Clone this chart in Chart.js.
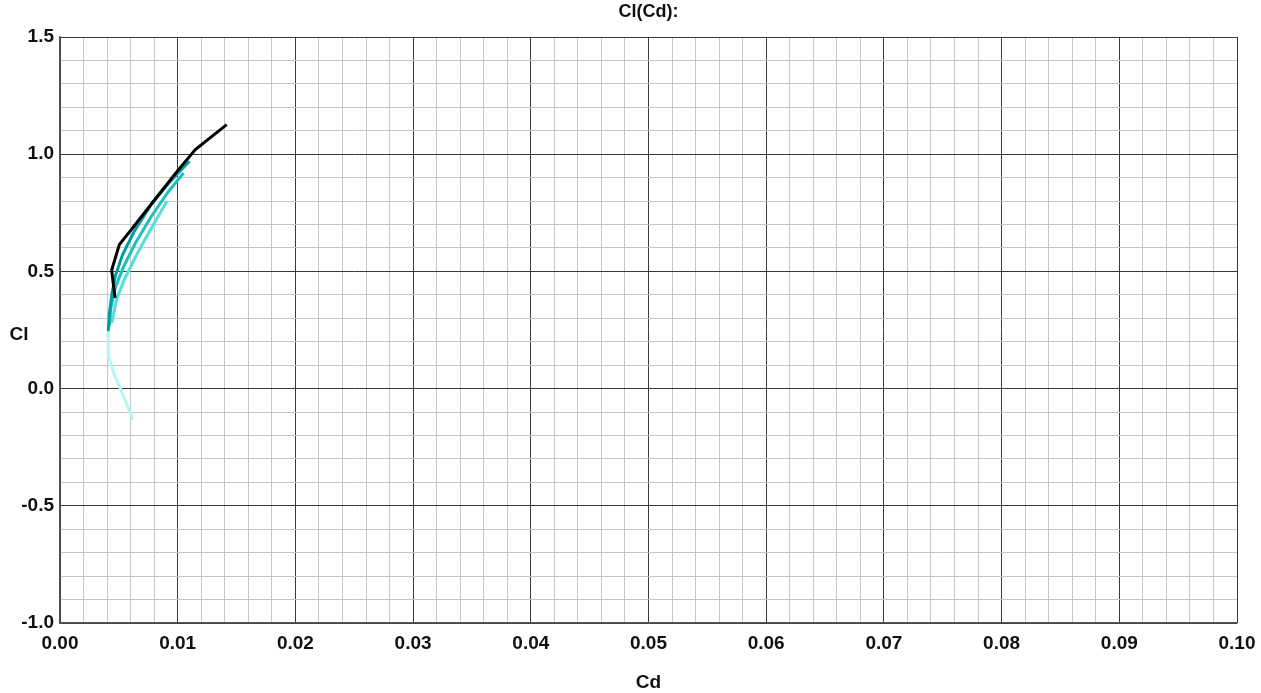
<!DOCTYPE html>
<html>
<head>
<meta charset="utf-8">
<script src="https://cdn.jsdelivr.net/npm/chart.js@4/dist/chart.umd.min.js"></script>
<style>
html,body{margin:0;padding:0;background:#fff;}
#wrap{width:1261px;height:693px;position:relative;}
</style>
</head>
<body>
<div id="wrap"><canvas id="c" width="1261" height="693"></canvas></div>
<script>
const chartTitle = "Cl(Cd):";
const xTitle = "Cd";
const yTitle = "Cl";

const seriesNames = ["s1", "s2", "s3", "s4", "s5"];
const seriesColors = ["#000000", "#009e9e", "#1cc0c0", "#5adcdc", "#b4f6f6"];

const cd1 = [0.00467, 0.00439, 0.00504, 0.0064, 0.0084, 0.0100, 0.01150, 0.01416];
const cl1 = [0.387, 0.505, 0.614, 0.70, 0.828, 0.93, 1.020, 1.126];

const cd2 = [0.0041, 0.0042, 0.0044, 0.0047, 0.0053, 0.0063, 0.0078, 0.0093, 0.0110];
const cl2 = [0.245, 0.32, 0.40, 0.48, 0.57, 0.67, 0.79, 0.88, 0.97];

const cd3 = [0.0042, 0.0043, 0.0047, 0.0054, 0.0064, 0.0077, 0.0092, 0.0105];
const cl3 = [0.27, 0.34, 0.43, 0.52, 0.62, 0.73, 0.84, 0.92];

const cd4 = [0.0044, 0.0048, 0.0055, 0.0064, 0.0076, 0.0091];
const cl4 = [0.28, 0.38, 0.47, 0.56, 0.67, 0.80];

const cd5 = [0.0062, 0.0051, 0.00467, 0.0041, 0.0041, 0.0045, 0.0052, 0.0061, 0.0071, 0.0081];
const cl5 = [-0.132, 0.004, 0.052, 0.138, 0.25, 0.33, 0.43, 0.53, 0.63, 0.70];

const xs = [cd1, cd2, cd3, cd4, cd5];
const ys = [cl1, cl2, cl3, cl4, cl5];

const xMin = 0, xMax = 0.10, xMinor = 0.002;
const yMin = -1.0, yMax = 1.5, yMinor = 0.1;

const datasets = seriesNames.map((n, i) => ({
  label: n,
  data: xs[i].map((x, k) => ({x: x, y: ys[i][k]})),
  borderColor: seriesColors[i],
  backgroundColor: seriesColors[i],
  borderWidth: 3,
  pointRadius: 0,
  showLine: true,
  tension: 0,
  fill: false
}));

const FONT = "'Liberation Sans', Arial, sans-serif";

const textPlugin = {
  id: 'texts',
  afterDraw(chart) {
    const ctx = chart.ctx;
    const a = chart.chartArea;
    ctx.save();
    ctx.fillStyle = '#111';
    ctx.textAlign = 'center';
    ctx.textBaseline = 'middle';
    ctx.font = "bold 18px " + FONT;
    ctx.fillText(chartTitle, (a.left + a.right) / 2, 12);
    ctx.font = "bold 19px " + FONT;
    ctx.fillText(xTitle, (a.left + a.right) / 2, 683);
    ctx.fillText(yTitle, 19, 335);
    ctx.restore();
  }
};

function isMajor(v, step) {
  const r = v / step;
  return Math.abs(r - Math.round(r)) < 1e-6;
}

new Chart(document.getElementById('c'), {
  type: 'scatter',
  data: { datasets: datasets },
  plugins: [textPlugin],
  options: {
    responsive: false,
    animation: false,
    layout: { padding: { top: 37, right: 24, left: 0, bottom: 0 } },
    plugins: { legend: { display: false }, tooltip: { enabled: false }, title: { display: false } },
    scales: {
      x: {
        type: 'linear',
        min: xMin, max: xMax,
        afterFit(s) { s.height = 70; s.paddingRight = 0; s.paddingLeft = 0; },
        afterBuildTicks(s) {
          const t = [];
          for (let i = 0; i <= Math.round((xMax - xMin) / xMinor); i++) t.push({value: +(xMin + i * xMinor).toFixed(4)});
          s.ticks = t;
        },
        ticks: {
          autoSkip: false,
          maxRotation: 0,
          padding: 9,
          color: '#111',
          font: { family: FONT, size: 19, weight: 'bold' },
          callback(v) { return isMajor(v, 0.01) ? v.toFixed(2) : ''; }
        },
        grid: {
          drawTicks: false,
          color(c) { return isMajor(c.tick.value, 0.01) ? '#3a3a3a' : '#c6c6c6'; },
          lineWidth: 1
        },
        border: { color: '#555', width: 1.5 }
      },
      y: {
        type: 'linear',
        min: yMin, max: yMax,
        afterFit(s) { s.width = 60; s.paddingTop = 0; s.paddingBottom = 0; },
        afterBuildTicks(s) {
          const t = [];
          for (let i = 0; i <= Math.round((yMax - yMin) / yMinor); i++) t.push({value: +(yMin + i * yMinor).toFixed(4)});
          s.ticks = t;
        },
        ticks: {
          autoSkip: false,
          padding: 6,
          color: '#111',
          font: { family: FONT, size: 19, weight: 'bold' },
          callback(v) { return isMajor(v, 0.5) ? v.toFixed(1) : ''; }
        },
        grid: {
          drawTicks: false,
          color(c) { return isMajor(c.tick.value, 0.5) ? '#3a3a3a' : '#c6c6c6'; },
          lineWidth: 1
        },
        border: { color: '#555', width: 1.5 }
      }
    }
  }
});
</script>
</body>
</html>
